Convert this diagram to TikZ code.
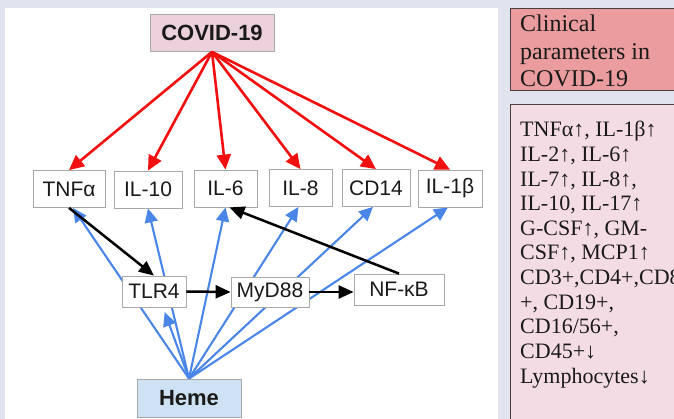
\documentclass[tikz,border=0pt]{standalone}
\usepackage{fontspec}
\setmainfont{Liberation Sans}
\newfontfamily\serifface{Liberation Serif}
\usetikzlibrary{arrows.meta,calc}
\definecolor{bgc}{HTML}{E1E3EE}
\definecolor{boxgray}{HTML}{A8A8A8}
\definecolor{covfill}{HTML}{EAD1DC}
\definecolor{hemefill}{HTML}{CFE2F3}
\definecolor{redc}{HTML}{F20F0F}
\definecolor{bluec}{HTML}{4A86E8}
\definecolor{clinfill}{HTML}{EA9C9E}
\definecolor{listfill}{HTML}{F3DCE3}
\definecolor{darkborder}{HTML}{4A3E40}
\definecolor{txtc}{HTML}{1A1A1A}
\pgfdeclarelayer{back}
\pgfdeclarelayer{lines}
\pgfsetlayers{back,lines,main}
\begin{document}
\begin{tikzpicture}[x=1pt,y=-1pt,
  box/.style={draw=boxgray, line width=0.8pt, fill=white, inner sep=0pt,
    text=txtc, font=\fontsize{21}{21}\selectfont},
  boldbox/.style={box, font=\fontsize{22}{22}\selectfont\bfseries},
  redarr/.style={draw=redc, line width=2.6pt, -{Triangle[length=15pt,width=14pt]}},
  bluearr/.style={draw=bluec, line width=2.1pt, -{Triangle[length=14pt,width=13pt]}},
  blackarr/.style={draw=black, line width=2.5pt, -{Triangle[length=15pt,width=13pt]}},
  cliptxt/.style={anchor=base west, inner sep=0pt, text=txtc, font=\serifface\fontsize{24}{24}\selectfont},
  listtxt/.style={anchor=base west, inner sep=0pt, text=txtc, font=\serifface\fontsize{22}{22}\selectfont}
]
\useasboundingbox (0,0) rectangle (674,419);
\begin{pgfonlayer}{back}
\fill[bgc] (0,0) rectangle (674,419);
\fill[white] (5,8) rectangle (498,419);
\end{pgfonlayer}

% nodes
\node[boldbox, fill=covfill, minimum width=124pt, minimum height=37pt] (cov) at (212,33) {COVID-19};
\node[box, minimum width=72pt, minimum height=37pt] (tnf) at (69,189) {TNFα};
\node[box, minimum width=68pt, minimum height=37pt] (il10) at (148,189.5) {IL-10};
\node[box, minimum width=63pt, minimum height=37pt] (il6) at (225.5,188.5) {IL-6};
\node[box, minimum width=63pt, minimum height=37pt] (il8) at (300.5,188) {IL-8};
\node[box, minimum width=68pt, minimum height=37pt] (cd14) at (376,188) {CD14};
\node[box, minimum width=64pt, minimum height=37pt] (il1b) at (450,188.5) {IL-1β};
\node[box, minimum width=64pt, minimum height=31pt] (tlr) at (154,291.5) {TLR4};
\node[box, minimum width=78pt, minimum height=30pt] (myd) at (270,292) {MyD88};
\node[box, minimum width=90pt, minimum height=31pt] (nfkb) at (399,289.5) {NF-κB};
\node[boldbox, fill=hemefill, minimum width=104pt, minimum height=38pt] (heme) at (189,398) {Heme};

% blue arrows (behind boxes)
\begin{pgfonlayer}{lines}
\draw[bluearr] (heme.north) -- ($(tnf.south)+(4,0)$);
\draw[bluearr] (heme.north) -- (il10.south);
\draw[bluearr] (heme.north) -- (il6.south);
\draw[bluearr] (heme.north) -- ($(il8.south)+(-2,0)$);
\draw[bluearr] (heme.north) -- ($(cd14.south)+(-3,0)$);
\draw[bluearr] (heme.north) -- ($(il1b.south)+(-2,0)$);
\draw[bluearr, shorten >=5pt] (heme.north) -- ($(tlr.south)+(9,0)$);
\end{pgfonlayer}

% red arrows
\foreach \t in {tnf,il10,il6,il8,cd14,il1b}
  \draw[redarr] (cov.south) -- (\t.north);

% black arrows
\draw[blackarr] (tnf.south) -- (tlr.north);
\draw[blackarr] (tlr.east) -- (myd.west);
\draw[blackarr] (myd.east) -- (myd.east -| nfkb.west);
\draw[blackarr] (nfkb.north) -- ($(il6.south)+(4,0)$);

% right panels
\draw[fill=clinfill, draw=darkborder, line width=1.2pt] (510.5,8.5) rectangle (680,90.5);
\draw[fill=listfill, draw=darkborder, line width=1.2pt] (510.5,104.5) rectangle (680,430);
\node[cliptxt] (c1) at (520,32) {Clinical};
\node[cliptxt] (c2) at (520,59.5) {parameters in};
\node[cliptxt] (c3) at (520,87) {COVID-19};

\node[listtxt] (p1) at (520,137) {TNFα↑, IL-1β↑};
\node[listtxt] (p2) at (520,161.6) {IL-2↑, IL-6↑};
\node[listtxt] (p3) at (520,186.2) {IL-7↑, IL-8↑,};
\node[listtxt] (p4) at (520,210.8) {IL-10, IL-17↑};
\node[listtxt] (p5) at (520,235.4) {G-CSF↑, GM-};
\node[listtxt] (p6) at (520,260) {CSF↑, MCP1↑};
\node[listtxt] (p7) at (520,284.6) {CD3+,CD4+,CD8};
\node[listtxt] (p8) at (520,309.2) {+, CD19+,};
\node[listtxt] (p9) at (520,333.8) {CD16/56+,};
\node[listtxt] (p10) at (520,358.4) {CD45+↓};
\node[listtxt] (p11) at (520,383) {Lymphocytes↓};
\end{tikzpicture}
\end{document}
